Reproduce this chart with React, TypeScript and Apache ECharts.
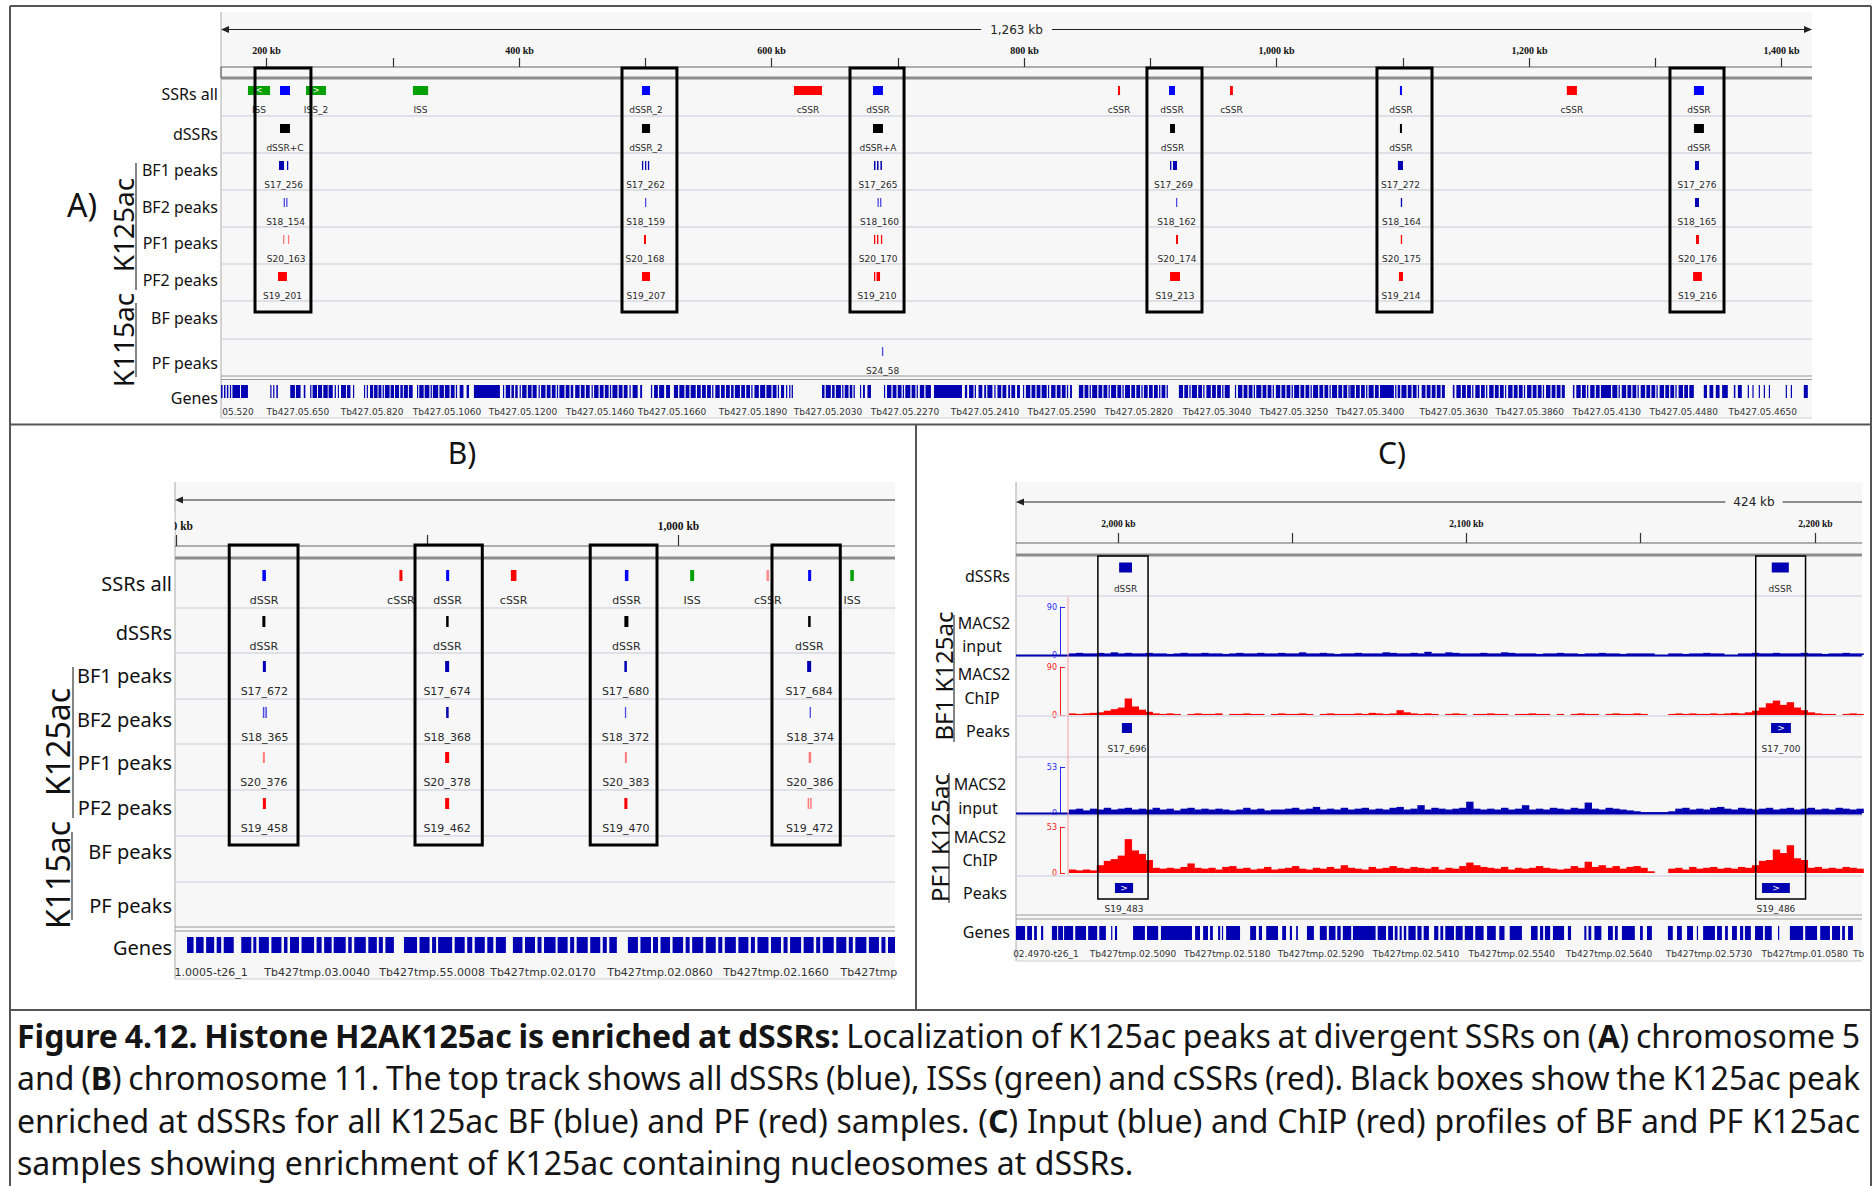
import React, { useEffect, useRef } from 'react';
import * as echarts from 'echarts';

const UI = '"Noto Sans", "DejaVu Sans", sans-serif';
const SMALL = '"DejaVu Sans", sans-serif';
const SERIF = '"Liberation Serif", "DejaVu Serif", serif';

const COLORS: Record<string, string> = {
  d: '#0000ff', c: '#ff0000', c2: '#ff8c8c', i: '#00a000', k: '#000000',
  b: '#0000b2', b2: '#4b4be6', r: '#ff0000', r2: '#ff7b7b',
};

// ---------------- Panel A : chromosome 5 (kb) ----------------
const A_RANGE = [163.96, 1424.2];
const A_SPAN_LABEL = '1,263 kb';
const A_TICKS = [200, 300, 400, 500, 600, 700, 800, 900, 1000, 1100, 1200, 1300, 1400];
const A_TICK_LABELS = ['200 kb', '', '400 kb', '', '600 kb', '', '800 kb', '', '1,000 kb', '', '1,200 kb', '', '1,400 kb'];
// [label, bars [start,end], colour key, strand arrow]
const A_SSRS_ALL: any[] = [
  ['ISS', [[185.3, 202.8]], 'i', '<'], ['', [[210.7, 218.6]], 'd'], ['ISS_2', [[231.3, 247.1]], 'i', '>'],
  ['ISS', [[316, 328]], 'i'], ['dSSR_2', [[497.4, 503.8]], 'd'], ['cSSR', [[617.8, 640]], 'c'],
  ['dSSR', [[680.4, 688.3]], 'd'], ['cSSR', [[874.5, 876.1]], 'c'], ['dSSR', [[914.9, 919.6]], 'd'],
  ['cSSR', [[963.2, 965.5]], 'c'], ['dSSR', [[1097.8, 1099.4]], 'd'], ['cSSR', [[1230, 1238]], 'c'],
  ['dSSR', [[1330.7, 1338.6]], 'd'],
];
const A_DSSRS: any[] = [
  ['dSSR+C', [[210.7, 218.6]], 'k'], ['dSSR_2', [[497.4, 503.8]], 'k'], ['dSSR+A', [[680.4, 688.3]], 'k'],
  ['dSSR', [[915.7, 919.6]], 'k'], ['dSSR', [[1097.8, 1099.4]], 'k'], ['dSSR', [[1330.7, 1338.6]], 'k'],
];
const A_BF1: any[] = [
  ['S17_256', [[209.9, 213.9], [216.2, 217]], 'b'], ['S17_262', [[497.4, 498.2], [499.8, 500.6], [502.1, 502.9]], 'b'],
  ['S17_265', [[681.2, 682.4], [683.6, 684.8], [686.3, 687.5]], 'b'], ['S17_269', [[915.7, 916.6], [918, 921.2]], 'b'],
  ['S17_272', [[1096.2, 1100.2]], 'b'], ['S17_276', [[1331.5, 1334.7]], 'b'],
];
const A_BF2: any[] = [
  ['S18_154', [[213.6, 214.4], [215.6, 216.4]], 'b2'], ['S18_159', [[499.8, 500.6]], 'b2'],
  ['S18_160', [[684, 684.6], [686, 686.6]], 'b2'], ['S18_162', [[920.4, 921.2]], 'b2'],
  ['S18_164', [[1098.5, 1099.4]], 'b'], ['S18_165', [[1331.5, 1334.7]], 'b'],
];
const A_PF1: any[] = [
  ['S20_163', [[213.1, 213.9], [217, 217.8]], 'r2'], ['S20_168', [[499, 500.6]], 'r'],
  ['S20_170', [[681.2, 682], [683.6, 684.4], [686.7, 687.5]], 'r'], ['S20_174', [[920.4, 922]], 'r'],
  ['S20_175', [[1098.5, 1099.4]], 'r'], ['S20_176', [[1332.3, 1334.7]], 'r'],
];
const A_PF2: any[] = [
  ['S19_201', [[209.1, 216.2]], 'r'], ['S19_207', [[497.4, 503.8]], 'r'], ['S19_210', [[681.2, 682], [683.2, 686]], 'r'],
  ['S19_213', [[915.7, 923.6]], 'r'], ['S19_214', [[1097, 1100.2]], 'r'], ['S19_216', [[1330, 1337]], 'r'],
];
const A_K115_BF: any[] = [];
const A_K115_PF: any[] = [['S24_58', [[687.5, 688.3]], 'b2']];
const A_BOXES = [[190.9, 235.2], [481.6, 525.1], [662.2, 705.0], [897.4, 941.0], [1079.6, 1123.2], [1311.7, 1354.5]];
const A_GENES = [
  [164, 165.2], [166.3, 167.5], [168.6, 169.8], [171, 172], [173, 179], [179.8, 185.3],
  [203, 203.9], [205.3, 206.2], [207.8, 209], [218.8, 222.5], [223.3, 227], [229.5, 230.8],
  [234.6, 235.5], [236.5, 240], [240.8, 244], [245, 248.5], [249.2, 252.5], [254, 255], [256.5, 257.3], [259, 263], [263.8, 266.5], [268.5, 269.4],
  [277.2, 278], [279.4, 280.2],
  [282, 284.5], [285.2, 288], [288.7, 291], [292, 293], [293.8, 297.5], [298.3, 301], [301.8, 305], [306, 308], [308.8, 312], [312.8, 315.8],
  [319.2, 320], [321, 324.5], [325.3, 329], [330, 331], [331.8, 336], [337, 340.5], [341.3, 345], [346, 349], [350, 351], [353, 356], [358.5, 360.4],
  [364.3, 384.9],
  [387.3, 388.2], [389.5, 393], [394, 396], [397, 399], [400.5, 401.3], [402.5, 406], [407, 410], [410.8, 414], [415.5, 416.5], [417.5, 421],
  [422, 425], [426, 429], [430, 431], [432, 436], [437, 440], [441, 443], [444.5, 448], [449, 452], [453, 456], [457.5, 458.3],
  [459.5, 463], [464, 467], [468, 471], [472, 473], [474, 478], [479, 482], [483, 486], [487.5, 488.5], [490, 494], [496, 497.5],
  [504.5, 505.5], [507, 510], [511, 515], [516.5, 519.6],
  [522.7, 526], [527, 531], [532, 535], [536, 540], [541, 544], [545, 548], [549, 552], [553, 554], [555.5, 559], [560, 563],
  [564, 567], [568, 570], [571, 575], [576, 579], [580, 583], [584, 585], [586.5, 590], [591, 595], [596, 600], [601, 604],
  [605, 606], [607.5, 610], [611.5, 612.5], [614, 615], [616, 617],
  [640, 642], [643, 647], [648, 650], [651, 655], [656, 657], [658, 661], [662, 664], [665, 666],
  [670.1, 671], [672.5, 674], [676, 678.8],
  [689.1, 690], [691.5, 695], [696, 699], [700, 703], [704, 705], [706, 710], [711, 714], [715, 716], [717.5, 721], [722, 726.3],
  [728.7, 750.9],
  [753.2, 755], [756.5, 760], [761, 762], [764, 767], [768.5, 770], [771, 775], [776.5, 777.5], [779, 782], [783, 786], [787.5, 789], [790, 793], [794.5, 796.8],
  [799.2, 800], [801.5, 805], [806, 809], [810, 813], [814, 818], [819, 820], [821.5, 825], [826, 829], [830, 833], [834, 835], [836.5, 838],
  [843.5, 847], [848, 851], [852, 853], [854, 858], [859, 862], [863, 866], [867, 868], [869, 873], [874, 877], [878, 879],
  [880, 884], [885, 888], [889, 892], [893, 894], [895, 898], [899, 902], [903, 906], [907, 908], [909, 912], [913, 914],
  [922.7, 926], [927, 930], [931, 932], [933, 937], [938, 941], [942, 943], [944.5, 948], [949, 952], [953, 956], [957, 958], [959, 963],
  [967.1, 968], [969.5, 973], [974, 977], [978, 981], [982, 983], [984, 988], [989, 992], [993, 996], [997, 998], [999.5, 1003],
  [1004, 1007], [1008, 1011], [1012, 1013], [1014, 1018], [1019, 1022], [1023, 1026], [1027, 1028], [1029, 1033], [1034, 1037], [1038, 1041],
  [1042, 1043], [1044, 1048], [1049, 1052], [1053, 1056], [1057, 1058],
  [1058.5, 1062], [1063, 1066], [1067, 1070], [1071, 1072], [1073, 1077], [1078, 1081], [1082, 1093], [1094, 1095], [1096, 1098], [1099, 1103],
  [1104, 1107], [1108, 1111], [1112, 1113], [1115, 1118], [1119, 1122], [1123, 1126], [1127, 1130], [1131, 1133.4],
  [1139.7, 1141], [1142.5, 1146], [1147, 1150], [1151, 1154], [1155, 1156], [1157.5, 1161], [1162, 1165], [1166, 1167], [1168.5, 1172], [1173, 1176],
  [1177, 1180], [1181, 1182], [1183.5, 1187], [1188, 1191], [1192, 1195], [1196, 1197], [1198.5, 1202], [1203, 1206], [1207, 1210], [1211, 1212],
  [1213.5, 1217], [1218, 1221], [1222, 1225], [1226, 1228.4],
  [1234.8, 1236], [1237.5, 1241], [1242, 1245], [1246, 1247], [1248.5, 1252], [1253, 1256], [1257, 1265], [1266, 1270], [1271, 1272], [1273.5, 1277],
  [1278, 1281], [1282, 1285], [1286, 1287], [1288.5, 1292], [1293, 1296], [1297, 1300], [1301, 1302], [1303.5, 1307], [1308, 1311], [1312, 1315],
  [1316, 1317], [1318.5, 1322], [1323, 1326], [1327, 1330.6],
  [1338.5, 1341], [1343, 1346], [1348, 1351], [1353, 1357.5], [1362.3, 1363.5], [1365.5, 1368.6],
  [1373.3, 1374], [1377, 1377.8], [1382, 1382.8], [1386, 1386.8], [1390, 1390.8], [1403.4, 1404.2], [1407.4, 1408.2], [1417.7, 1420.9],
];
const A_GENE_LABELS: [number, string][] = [
  [177.4, '05.520'], [224.9, 'Tb427.05.650'], [283.6, 'Tb427.05.820'], [343.0, 'Tb427.05.1060'], [403.1, 'Tb427.05.1200'],
  [464.1, 'Tb427.05.1460'], [521.2, 'Tb427.05.1660'], [585.3, 'Tb427.05.1890'], [644.7, 'Tb427.05.2030'], [705.7, 'Tb427.05.2270'],
  [769.1, 'Tb427.05.2410'], [830.0, 'Tb427.05.2590'], [891.0, 'Tb427.05.2820'], [952.8, 'Tb427.05.3040'], [1013.8, 'Tb427.05.3250'],
  [1074.0, 'Tb427.05.3400'], [1140.5, 'Tb427.05.3630'], [1200.7, 'Tb427.05.3860'], [1261.7, 'Tb427.05.4130'], [1322.6, 'Tb427.05.4480'],
  [1385.2, 'Tb427.05.4650'],
];

// ---------------- Panel B : chromosome 11 (kb) ----------------
const B_RANGE = [899.8, 1043.2];
const B_TICKS = [900, 950, 1000];
const B_TICK_LABELS = ['900 kb', '', '1,000 kb'];
const B_SSRS_ALL: any[] = [
  ['dSSR', [[917.2, 917.9]], 'd'], ['cSSR', [[944.5, 945.1]], 'c'], ['dSSR', [[953.8, 954.4]], 'd'],
  ['cSSR', [[966.7, 967.8]], 'c'], ['dSSR', [[989.4, 990.1]], 'd'], ['ISS', [[1002.4, 1003.2]], 'i'],
  ['cSSR', [[1017.6, 1018.1]], 'c2'], ['', [[1025.9, 1026.5]], 'd'], ['ISS', [[1034.3, 1035]], 'i'],
];
const B_DSSRS: any[] = [
  ['dSSR', [[917.2, 917.8]], 'k'], ['dSSR', [[953.8, 954.3]], 'k'], ['dSSR', [[989.3, 990.1]], 'k'], ['dSSR', [[1025.9, 1026.4]], 'k'],
];
const B_BF1: any[] = [
  ['S17_672', [[917.3, 917.9]], 'b'], ['S17_674', [[953.6, 954.4]], 'b'], ['S17_680', [[989.3, 989.8]], 'b'], ['S17_684', [[1025.7, 1026.5]], 'b'],
];
const B_BF2: any[] = [
  ['S18_365', [[917.3, 917.6], [917.8, 918.1]], 'b2'], ['S18_368', [[953.8, 954.3]], 'b'], ['S18_372', [[989.4, 989.6]], 'b2'], ['S18_374', [[1026.2, 1026.4]], 'b2'],
];
const B_PF1: any[] = [
  ['S20_376', [[917.3, 917.7]], 'r2'], ['S20_378', [[953.6, 954.4]], 'r'], ['S20_383', [[989.4, 989.8]], 'r2'], ['S20_386', [[1026, 1026.5]], 'r2'],
];
const B_PF2: any[] = [
  ['S19_458', [[917.3, 917.9]], 'r'], ['S19_462', [[953.6, 954.4]], 'r'], ['S19_470', [[989.3, 989.9]], 'r'], ['S19_472', [[1025.8, 1026.1], [1026.3, 1026.6]], 'r2'],
];
const B_K115_BF: any[] = [];
const B_K115_PF: any[] = [];
const B_BOXES = [[910.6, 924.3], [947.6, 961], [982.5, 995.8], [1018.7, 1032.3]];
const B_GENES = [
  [902.2, 903.5], [904, 905.5], [906, 907.6], [908.1, 909], [909.5, 911.5], [913, 915], [915.4, 916], [916.5, 918.5], [919, 921], [921.5, 922.2],
  [922.7, 924.5], [925, 927.5], [928, 929], [929.5, 931], [931.4, 933.8], [934.3, 935], [935.5, 937.8], [938.3, 940], [940.4, 941.2], [941.7, 943.4],
  [945.4, 948], [948.5, 950.5], [951, 951.8], [952.2, 955], [955.5, 957.5], [958, 959], [959.5, 961.5], [962, 963.2], [963.7, 965.7],
  [967.1, 969], [969.5, 971.5], [972, 972.8], [973.3, 975.6], [976, 978], [978.5, 979.3], [979.8, 982], [982.5, 984.5], [985, 985.8], [986.3, 987.8],
  [990, 992], [992.5, 994.6], [995, 996], [996.5, 998.4], [998.9, 1001], [1001.5, 1002.3], [1002.8, 1005], [1005.5, 1007.5], [1008, 1008.8], [1009.3, 1011.5],
  [1012, 1014], [1014.5, 1015.3], [1015.8, 1018], [1018.5, 1020.5], [1021, 1021.8], [1022.3, 1024.5], [1025, 1027], [1027.5, 1028.3], [1028.8, 1031], [1031.5, 1033.5],
  [1034, 1034.8], [1035.3, 1037.5], [1038, 1040], [1040.5, 1041.3], [1041.8, 1043.2],
];
const B_GENE_LABELS: [number, string][] = [
  [907.0, '1.0005-t26_1'], [928.1, 'Tb427tmp.03.0040'], [951.0, 'Tb427tmp.55.0008'], [973.1, 'Tb427tmp.02.0170'],
  [996.4, 'Tb427tmp.02.0860'], [1019.5, 'Tb427tmp.02.1660'], [1038.0, 'Tb427tmp'],
];

// ---------------- Panel C : profiles (kb) ----------------
const C_RANGE = [1970.8, 2213.6];
const C_SIGNAL_AXIS_MIN = 1983.44;
const C_SPAN_LABEL = '424 kb';
const C_TICKS = [2000, 2050, 2100, 2150, 2200];
const C_TICK_LABELS = ['2,000 kb', '', '2,100 kb', '', '2,200 kb'];
const C_DSSRS: any[] = [['dSSR', [[2000.4, 2004.1]], 'b'], ['dSSR', [[2187.7, 2192.6]], 'b']];
const C_BF1_PEAKS: any[] = [['S17_696', [[2001.2, 2004.1]], 'b'], ['S17_700', [[2187.5, 2193.2]], 'b', '>']];
const C_PF1_PEAKS: any[] = [['S19_483', [[1999.2, 2004.4]], 'b', '>'], ['S19_486', [[2184.9, 2192.9]], 'b', '>']];
const C_BOXES = [[1994.3, 2008.7], [2183.1, 2197.4]];
const SIGNAL_START_KB = 1986;
const SIGNAL_BIN_KB = 2;
const BF1_MAX = 90;
const PF1_MAX = 53;
const BF1_INPUT = [
  3, 4, 3, 3, 4, 3, 5, 3, 4, 3, 3, 4, 3, 3, 2, 3, 4, 3, 3, 4, 3, 3, 2, 3, 4, 3, 3, 4, 3, 3,
  4, 3, 3, 5, 3, 3, 4, 3, 2, 3, 3, 4, 3, 3, 3, 5, 4, 3, 3, 4, 3, 6, 3, 3, 5, 4, 3, 3, 3, 4,
  3, 3, 5, 4, 3, 3, 3, 2, 3, 3, 4, 3, 3, 2, 3, 3, 4, 3, 3, 2, 3, 3, 3, 3, 0, 0, 3, 3, 2, 3,
  3, 4, 3, 3, 0, 0, 3, 3, 4, 3, 3, 4, 3, 3, 3, 4, 3, 3, 2, 3, 3, 4, 3, 3,
];
const BF1_CHIP = [
  3, 2, 3, 4, 5, 8, 11, 14, 31, 16, 10, 6, 3, 2, 3, 2, 0, 2, 3, 2, 2, 3, 0, 2, 2, 3, 2, 2, 0, 2,
  3, 2, 2, 3, 2, 0, 2, 3, 2, 2, 2, 3, 2, 4, 3, 2, 3, 9, 5, 3, 2, 3, 2, 0, 2, 3, 2, 0, 2, 2,
  3, 2, 2, 0, 2, 2, 3, 2, 2, 0, 2, 0, 2, 3, 2, 2, 0, 2, 3, 2, 2, 3, 2, 0, 0, 0, 2, 3, 2, 3,
  2, 2, 3, 2, 3, 4, 3, 5, 8, 14, 22, 27, 19, 24, 14, 9, 5, 3, 2, 2, 0, 2, 3, 2,
];
const PF1_INPUT = [
  4, 5, 3, 5, 4, 6, 4, 5, 6, 4, 5, 4, 6, 4, 5, 3, 5, 6, 4, 5, 4, 5, 4, 3, 4, 6, 4, 5, 3, 4,
  4, 5, 6, 4, 5, 7, 4, 5, 4, 6, 4, 5, 6, 4, 5, 4, 6, 7, 4, 5, 9, 4, 6, 5, 4, 5, 6, 13, 5, 4,
  5, 4, 6, 4, 5, 9, 4, 5, 4, 6, 5, 4, 6, 5, 12, 5, 4, 6, 5, 4, 3, 2, 1, 1, 1, 1, 2, 5, 6, 4,
  5, 4, 6, 7, 5, 4, 6, 5, 4, 5, 6, 4, 5, 6, 4, 5, 6, 4, 5, 4, 6, 5, 4, 5,
];
const PF1_CHIP = [
  4, 3, 4, 3, 9, 14, 16, 20, 39, 26, 22, 15, 6, 5, 6, 5, 7, 11, 6, 5, 6, 4, 7, 8, 5, 6, 4, 5, 7, 4,
  5, 6, 8, 5, 4, 6, 5, 7, 5, 9, 6, 5, 4, 7, 5, 6, 8, 6, 5, 7, 6, 5, 7, 4, 6, 5, 8, 12, 9, 7,
  6, 5, 7, 4, 6, 5, 6, 8, 6, 5, 4, 5, 8, 6, 13, 7, 9, 6, 8, 5, 7, 8, 6, 2, 0, 0, 5, 6, 4, 7,
  5, 6, 7, 5, 6, 5, 7, 6, 9, 14, 15, 27, 23, 32, 17, 15, 6, 7, 5, 6, 5, 7, 6, 5,
];
const C_GENES = [
  [1970.8, 1973.4], [1974, 1975.4], [1976, 1976.8], [1978, 1978.6], [1981.1, 1982.6], [1982.9, 1984.3], [1984.6, 1987.2], [1987.8, 1990.9], [1991.5, 1994.1], [1994.7, 1996.6],
  [1998.1, 1998.4], [1999.2, 1999.8], [2004.4, 2007.8], [2008.4, 2011.6], [2012.4, 2021.3], [2022.2, 2023.6], [2024.5, 2025.9], [2026.5, 2027.3], [2028.8, 2029.4], [2029.9, 2030.2],
  [2031.1, 2035.1], [2038, 2039.7], [2040.5, 2041.4], [2042.6, 2046], [2047.2, 2048.3], [2049.4, 2050], [2051.2, 2051.7], [2054.3, 2056.3],
  [2058, 2060], [2060.6, 2062.5], [2063, 2064], [2064.6, 2067], [2067.5, 2074], [2074.6, 2077], [2077.6, 2079], [2079.5, 2080.3], [2080.9, 2081.5], [2082.1, 2082.8],
  [2083.4, 2085.5], [2086, 2087.2], [2087.8, 2089.3],
  [2090.8, 2092], [2092.6, 2093.4], [2094, 2096.5], [2097, 2099], [2099.6, 2102], [2102.6, 2105], [2106, 2108.5], [2109.5, 2111], [2112.5, 2116],
  [2118.6, 2120.5], [2121.2, 2122.1], [2122.6, 2124.1], [2124.9, 2128.1], [2129.2, 2130.1],
  [2133.9, 2134.5], [2135.1, 2135.9], [2136.8, 2138.8], [2140.7, 2142.1], [2142.7, 2143.5], [2144.7, 2148.4], [2149.9, 2150.7], [2151.9, 2153.3],
  [2157.9, 2159.3], [2160.5, 2161.9], [2163.4, 2165.1], [2166.2, 2166.5], [2168, 2171.4], [2172, 2173.4], [2174.3, 2175.1], [2176.3, 2177.7], [2178.6, 2179.5], [2180, 2181.7],
  [2182.9, 2185.2], [2185.7, 2187.7], [2189.5, 2189.8], [2192.9, 2196.7], [2197.3, 2200.7], [2201.6, 2204.4], [2205, 2207.3], [2207.9, 2208.7], [2209.6, 2211],
];
const C_GENE_LABELS: [number, string][] = [
  [1979.4, '02.4970-t26_1'], [2004.4, 'Tb427tmp.02.5090'], [2031.4, 'Tb427tmp.02.5180'], [2058.3, 'Tb427tmp.02.5290'],
  [2085.6, 'Tb427tmp.02.5410'], [2113.1, 'Tb427tmp.02.5540'], [2141.0, 'Tb427tmp.02.5640'], [2169.7, 'Tb427tmp.02.5730'],
  [2197.2, 'Tb427tmp.01.0580'], [2212.6, 'Tb'],
];

// ---------------- Caption ----------------
const CAPTION_RUNS: [string, number][][] = [
  [['Figure 4.12. Histone H2AK125ac is enriched at dSSRs:', 1], [' Localization of K125ac peaks at divergent SSRs on (', 0], ['A', 1], [') chromosome 5', 0]],
  [['and (', 0], ['B', 1], [') chromosome 11. The top track shows all dSSRs (blue), ISSs (green) and cSSRs (red). Black boxes show the K125ac peak', 0]],
  [['enriched at dSSRs for all K125ac BF (blue) and PF (red) samples. (', 0], ['C', 1], [') Input (blue) and ChIP (red) profiles of BF and PF K125ac', 0]],
  [['samples showing enrichment of K125ac containing nucleosomes at dSSRs.', 0]],
];

function captionElements(): any[] {
  const X0 = 17, FULL = 1843, LAST = 1149, YS = [1035, 1077.5, 1120, 1162.5];
  const ctx = document.createElement('canvas').getContext('2d') as CanvasRenderingContext2D;
  const meas = (t: string, b: number, fs: number) => { ctx.font = `${b ? 'bold ' : ''}${fs}px ${UI}`; return ctx.measureText(t).width; };
  const lines = CAPTION_RUNS.map((runs) => {
    const words: [string, number][][] = []; let cur: [string, number][] = [];
    runs.forEach(([t, b]) => {
      for (const ch of t) {
        if (ch === ' ') { if (cur.length) { words.push(cur); cur = []; } }
        else { const last = cur[cur.length - 1]; if (last && last[1] === b) last[0] += ch; else cur.push([ch, b]); }
      }
    });
    if (cur.length) words.push(cur);
    return words;
  });
  const natural = (words: [string, number][][], fs: number) =>
    words.reduce((s, w) => s + w.reduce((a, p) => a + meas(p[0], p[1], fs), 0), 0) + (words.length - 1) * meas(' ', 0, fs);
  let fs = 28 * LAST / natural(lines[3], 28);
  fs = Math.max(24, Math.min(32, fs));
  const out: any[] = [];
  lines.forEach((words, li) => {
    const sp = meas(' ', 0, fs);
    const ws = words.map((w) => w.map((p) => meas(p[0], p[1], fs)));
    const sumW = ws.reduce((s, w) => s + w.reduce((a, b) => a + b, 0), 0);
    let gap = sp, sx = 1;
    if (li < lines.length - 1) {
      gap = (FULL - sumW) / (words.length - 1);
      if (gap < sp * 0.6) { gap = sp * 0.6; sx = (FULL - gap * (words.length - 1)) / sumW; }
    }
    let x = X0;
    words.forEach((w, wi) => {
      w.forEach((p, pi) => {
        out.push({ type: 'text', x, y: YS[li], scaleX: sx, z: 10, silent: true,
          style: { text: p[0], fill: '#151515', fontSize: fs, lineHeight: fs * 1.05, fontFamily: UI, fontWeight: p[1] ? 'bold' : 'normal', align: 'left', verticalAlign: 'middle' } });
        x += ws[wi][pi] * sx;
      });
      x += gap;
    });
  });
  return out;
}

function buildOption() {
  const grids: any[] = [], xAxes: any[] = [], yAxes: any[] = [], series: any[] = [], G: any[] = [];

  const addGrid = (left: number, right: number, top: number, height: number, range: number[], yOpt?: any) => {
    const gi = grids.length;
    grids.push({ left, top, width: right - left, height });
    xAxes.push({ type: 'value', gridIndex: gi, min: range[0], max: range[1], show: false });
    yAxes.push(yOpt ? { gridIndex: gi, ...yOpt } : { type: 'value', gridIndex: gi, min: 0, max: 1, show: false });
    return gi;
  };

  const featureSeries = (gi: number, groups: any[], cfg: any) => ({
    type: 'custom', xAxisIndex: gi, yAxisIndex: gi, silent: true, z: 3, clip: false,
    encode: { x: [0, 1], y: 2 },
    data: groups.map((g) => [Math.min(...g[1].map((b: number[]) => b[0])), Math.max(...g[1].map((b: number[]) => b[1])), 0]),
    renderItem: (params: any, api: any) => {
      const g = groups[params.dataIndex];
      const cs = params.coordSys;
      const color = COLORS[g[2]];
      const yc = cs.y + cfg.fOff;
      const children: any[] = [];
      let xs = Infinity, xe = -Infinity;
      g[1].forEach((b: number[]) => {
        const x0 = api.coord([b[0], 0])[0], x1 = api.coord([b[1], 0])[0];
        const w = Math.max(1.3, x1 - x0);
        xs = Math.min(xs, x0); xe = Math.max(xe, x0 + w);
        children.push({ type: 'rect', shape: { x: x0, y: yc - cfg.h / 2, width: w, height: cfg.h }, style: { fill: color } });
      });
      if (g[3]) children.push({ type: 'text', style: { text: g[3], x: (xs + xe) / 2, y: yc, align: 'center', verticalAlign: 'middle', fill: '#ffffff', fontSize: cfg.h - 1, fontFamily: SMALL } });
      if (g[0]) children.push({ type: 'text', style: { text: g[0], x: (xs + xe) / 2, y: cs.y + cfg.lOff, align: 'center', verticalAlign: 'middle', fill: '#2a2a2a', fontSize: cfg.fs, fontFamily: SMALL } });
      return { type: 'group', children };
    },
  });

  const geneSeries = (gi: number, genes: number[][], labels: [number, string][], cfg: any) => {
    series.push({
      type: 'custom', xAxisIndex: gi, yAxisIndex: gi, silent: true, z: 3, clip: false,
      encode: { x: [0, 1], y: 2 },
      data: genes.map((g) => [g[0], g[1], 0]),
      renderItem: (params: any, api: any) => {
        const cs = params.coordSys;
        const x0 = api.coord([api.value(0), 0])[0], x1 = api.coord([api.value(1), 0])[0];
        return { type: 'rect', shape: { x: x0, y: cs.y + cfg.off - cfg.h / 2, width: Math.max(1.2, x1 - x0), height: cfg.h }, style: { fill: '#0000b2' } };
      },
    });
    series.push({
      type: 'custom', xAxisIndex: gi, yAxisIndex: gi, silent: true, z: 3, clip: false,
      data: labels.map((l) => [l[0], 0]),
      renderItem: (params: any, api: any) => {
        const cs = params.coordSys;
        const x = api.coord([api.value(0), 0])[0];
        return { type: 'text', style: { text: labels[params.dataIndex][1], x, y: cs.y + cfg.lOff, align: 'center', verticalAlign: 'middle', fill: '#333', fontSize: cfg.fs, fontFamily: SMALL } };
      },
    });
  };

  const tickSeries = (gi: number, ticks: number[], labels: string[], cfg: any) => {
    series.push({
      type: 'custom', xAxisIndex: gi, yAxisIndex: gi, silent: true, z: 3, clip: false,
      data: ticks.map((t) => [t, 0]),
      renderItem: (params: any, api: any) => {
        const cs = params.coordSys;
        const x = Math.round(api.coord([api.value(0), 0])[0]) + 0.5;
        const ch: any[] = [{ type: 'line', shape: { x1: x, y1: cs.y + cfg.t0, x2: x, y2: cs.y + cs.height }, style: { stroke: '#333', lineWidth: 1.2 } }];
        const lab = labels[params.dataIndex];
        if (lab) ch.push({ type: 'text', style: { text: lab, x, y: cs.y + cfg.lOff, align: 'center', verticalAlign: 'middle', fill: '#111', fontSize: cfg.fs, fontWeight: 'bold', fontFamily: SERIF } });
        return { type: 'group', children: ch };
      },
    });
  };

  const boxSeries = (gi: number, boxes: number[][], lw: number) => {
    series.push({
      type: 'custom', xAxisIndex: gi, yAxisIndex: gi, silent: true, z: 6, clip: false,
      encode: { x: [0, 1], y: 2 },
      data: boxes.map((b) => [b[0], b[1], 0]),
      renderItem: (params: any, api: any) => {
        const cs = params.coordSys;
        const x0 = api.coord([api.value(0), 0])[0], x1 = api.coord([api.value(1), 0])[0];
        return { type: 'rect', shape: { x: x0, y: cs.y, width: x1 - x0, height: cs.height }, style: { fill: 'none', stroke: '#000', lineWidth: lw } };
      },
    });
  };

  const signalSeries = (gi: number, values: number[], color: string) => {
    series.push({
      type: 'custom', xAxisIndex: gi, yAxisIndex: gi, silent: true, z: 3, clip: false,
      encode: { x: [0, 1], y: 2 },
      data: values.map((v, i) => [SIGNAL_START_KB + i * SIGNAL_BIN_KB, SIGNAL_START_KB + (i + 1) * SIGNAL_BIN_KB, v]),
      renderItem: (params: any, api: any) => {
        const v = api.value(2);
        if (!(v > 0)) return { type: 'group', children: [] };
        const a = api.coord([api.value(0), v]);
        const b = api.coord([api.value(1), 0]);
        return { type: 'rect', shape: { x: a[0], y: a[1], width: b[0] - a[0] + 0.4, height: b[1] - a[1] }, style: { fill: color } };
      },
    });
  };

  // graphic helpers
  const ln = (x1: number, y1: number, x2: number, y2: number, stroke: string, lw: number, z = 1) =>
    G.push({ type: 'line', silent: true, z, shape: { x1, y1, x2, y2 }, style: { stroke, lineWidth: lw } });
  const rc = (x: number, y: number, w: number, h: number, fill: string, z = 0) =>
    G.push({ type: 'rect', silent: true, z, shape: { x, y, width: w, height: h }, style: { fill } });
  const tx = (t: string, x: number, y: number, fs: number, align = 'right', extra: any = {}, rot = 0) =>
    G.push({ type: 'text', silent: true, z: 10, x, y, rotation: rot, style: { text: t, fill: '#111', fontSize: fs, fontFamily: UI, align, verticalAlign: 'middle', ...extra } });
  const tri = (pts: number[][]) => G.push({ type: 'polygon', silent: true, z: 2, shape: { points: pts }, style: { fill: '#222' } });

  const BG = '#f7f7f7', SEP = '#d9d9e3';

  // ---------- frame ----------
  rc(0, 0, 1875, 1186, '#ffffff', -1);
  [[10, 6, 1871, 6], [10, 6, 10, 1186], [1871, 6, 1871, 1186], [10, 424.5, 1871, 424.5], [10, 1010, 1871, 1010], [916, 424.5, 916, 1010]]
    .forEach((l) => ln(l[0], l[1], l[2], l[3], '#555', 2, 9));

  // ================= PANEL A =================
  const AL = 221, AR = 1812;
  rc(AL, 12, AR - AL, 406, BG);
  ln(AL, 12, AL, 418, '#aaa', 1);
  [116, 153, 190, 227, 264, 301, 339].forEach((y) => ln(AL, y, AR, y, SEP, 1.5));
  ln(AL, 376, AR, 376, '#9a9a9a', 1.2); ln(AL, 379.5, AR, 379.5, '#9a9a9a', 1.2); ln(AL, 418, AR, 418, '#cfcfcf', 1);
  ln(AL, 67, AR, 67, '#666', 1.2); ln(AL, 67, AL, 78, '#666', 1.2); ln(AL, 78, AR, 78, '#8c8c8c', 3);
  ln(AL + 4, 29.5, AR - 4, 29.5, '#222', 1.2);
  tri([[AL, 29.5], [AL + 8, 26], [AL + 8, 33]]); tri([[AR, 29.5], [AR - 8, 26], [AR - 8, 33]]);
  tx(A_SPAN_LABEL, (AL + AR) / 2, 30, 12, 'center', { fontFamily: SMALL, backgroundColor: BG, padding: [1, 9], fill: '#222' });
  tickSeries(addGrid(AL, AR, 40, 27, A_RANGE), A_TICKS, A_TICK_LABELS, { lOff: 10, t0: 18, fs: 10 });
  const aRows: [any[], number, number][] = [
    [A_SSRS_ALL, 78, 38], [A_DSSRS, 116, 37], [A_BF1, 153, 37], [A_BF2, 190, 37], [A_PF1, 227, 37], [A_PF2, 264, 37], [A_K115_BF, 301, 38], [A_K115_PF, 339, 37],
  ];
  aRows.forEach(([grp, top, h]) => series.push(featureSeries(addGrid(AL, AR, top, h, A_RANGE), grp, { fOff: 12.5, h: 9, lOff: 31.5, fs: 9 })));
  geneSeries(addGrid(AL, AR, 380, 38, A_RANGE), A_GENES, A_GENE_LABELS, { off: 11.5, h: 13, lOff: 32, fs: 9 });
  boxSeries(addGrid(AL, AR, 68, 244, A_RANGE), A_BOXES, 3);
  [['SSRs all', 94], ['dSSRs', 134], ['BF1 peaks', 170], ['BF2 peaks', 207], ['PF1 peaks', 243], ['PF2 peaks', 280], ['BF peaks', 318], ['PF peaks', 363], ['Genes', 398]]
    .forEach(([t, y]) => tx(t as string, 218, y as number, 16));
  tx('A)', 82, 204, 32, 'center');
  tx('K125ac', 123, 225, 28, 'center', {}, Math.PI / 2);
  tx('K115ac', 123, 340, 28, 'center', {}, Math.PI / 2);
  ln(136, 163, 136, 290, '#333', 1.2, 9); ln(136, 303, 136, 377, '#333', 1.2, 9);

  // ================= PANEL B =================
  const BL = 175, BR = 895;
  rc(BL, 482, BR - BL, 497, BG);
  ln(BL, 482, BL, 979, '#aaa', 1);
  [608, 653, 699, 744, 790, 836, 882].forEach((y) => ln(BL, y, BR, y, SEP, 1.5));
  ln(BL, 927, BR, 927, '#9a9a9a', 1.2); ln(BL, 931, BR, 931, '#9a9a9a', 1.2); ln(BL, 979, BR, 979, '#cfcfcf', 1);
  ln(BL, 546, BR, 546, '#666', 1.2); ln(BL, 558, BR, 558, '#8c8c8c', 3);
  ln(BL + 4, 500, BR, 500, '#222', 1.2); tri([[BL, 500], [BL + 8, 496.5], [BL + 8, 503.5]]);
  tickSeries(addGrid(BL, BR, 516, 30, B_RANGE), B_TICKS, B_TICK_LABELS, { lOff: 10, t0: 19, fs: 11.5 });
  rc(120, 513, BL - 120.5, 24, '#ffffff', 8);
  const bRows: [any[], number][] = [[B_SSRS_ALL, 562], [B_DSSRS, 608], [B_BF1, 653], [B_BF2, 699], [B_PF1, 744], [B_PF2, 790], [B_K115_BF, 836], [B_K115_PF, 882]];
  bRows.forEach(([grp, top]) => series.push(featureSeries(addGrid(BL, BR, top, 45, B_RANGE), grp, { fOff: 13.5, h: 11, lOff: 38, fs: 11 })));
  geneSeries(addGrid(BL, BR, 933, 46, B_RANGE), B_GENES, B_GENE_LABELS, { off: 12, h: 16, lOff: 39, fs: 11 });
  boxSeries(addGrid(BL, BR, 545, 300, B_RANGE), B_BOXES, 3);
  [['SSRs all', 583], ['dSSRs', 632], ['BF1 peaks', 675], ['BF2 peaks', 719], ['PF1 peaks', 762], ['PF2 peaks', 807], ['BF peaks', 851], ['PF peaks', 905], ['Genes', 947]]
    .forEach(([t, y]) => tx(t as string, 172, y as number, 20));
  tx('B)', 462, 452, 30, 'center');
  tx('K125ac', 57, 742, 32, 'center', {}, Math.PI / 2);
  tx('K115ac', 57, 875, 32, 'center', {}, Math.PI / 2);
  ln(73, 667, 73, 818, '#333', 1.2, 9); ln(72, 832, 72, 920, '#333', 1.2, 9);

  // ================= PANEL C =================
  const CL = 1016, CR = 1862, CS = 1060;
  rc(CL, 482, CR - CL, 479, BG);
  ln(CL, 482, CL, 961, '#aaa', 1);
  [596, 656.5, 716, 757, 815.5, 876].forEach((y) => ln(CL, y, CR, y, SEP, 1.5));
  ln(CL, 915, CR, 915, '#9a9a9a', 1.2); ln(CL, 919, CR, 919, '#9a9a9a', 1.2); ln(CL, 961, CR, 961, '#cfcfcf', 1);
  ln(CL, 543, CR, 543, '#666', 1.2); ln(CL, 555, CR, 555, '#8c8c8c', 3);
  ln(CL + 4, 502, CR, 502, '#222', 1.2); tri([[CL, 502], [CL + 8, 498.5], [CL + 8, 505.5]]);
  tx(C_SPAN_LABEL, 1754, 502, 12, 'center', { fontFamily: SMALL, backgroundColor: BG, padding: [1, 8], fill: '#222' });
  tickSeries(addGrid(CL, CR, 514, 29, C_RANGE), C_TICKS, C_TICK_LABELS, { lOff: 10, t0: 19, fs: 9.5 });
  series.push(featureSeries(addGrid(CL, CR, 555, 41, C_RANGE), C_DSSRS, { fOff: 12.5, h: 10, lOff: 34, fs: 9 }));
  series.push(featureSeries(addGrid(CL, CR, 716, 41, C_RANGE), C_BF1_PEAKS, { fOff: 12, h: 10, lOff: 33, fs: 9 }));
  series.push(featureSeries(addGrid(CL, CR, 876, 39, C_RANGE), C_PF1_PEAKS, { fOff: 12, h: 10, lOff: 33, fs: 9 }));
  const sigAxis = (max: number, color: string) => ({
    type: 'value', min: 0, max, interval: max, show: true,
    axisLine: { show: true, onZero: false, lineStyle: { color, width: 1 } },
    axisTick: { show: true, inside: true, length: 5, lineStyle: { color } },
    axisLabel: { show: true, fontSize: 8, color, margin: 3, fontFamily: SMALL },
    splitLine: { show: false },
  });
  const sRange = [C_SIGNAL_AXIS_MIN, C_RANGE[1]];
  ln(CL, 655.5, CR, 655.5, '#0000b2', 2, 2); ln(CL, 813.5, CR, 813.5, '#0000b2', 2, 2);
  ln(1068, 597, 1068, 875, '#f3a0a0', 1, 2);
  signalSeries(addGrid(CS, CR, 607, 48, sRange, sigAxis(BF1_MAX, '#2a2aff')), BF1_INPUT, '#0000b2');
  signalSeries(addGrid(CS, CR, 667, 48, sRange, sigAxis(BF1_MAX, '#ff2020')), BF1_CHIP, '#ff0000');
  signalSeries(addGrid(CS, CR, 767, 46, sRange, sigAxis(PF1_MAX, '#2a2aff')), PF1_INPUT, '#0000b2');
  signalSeries(addGrid(CS, CR, 827, 46, sRange, sigAxis(PF1_MAX, '#ff2020')), PF1_CHIP, '#ff0000');
  geneSeries(addGrid(CL, CR, 920, 41, C_RANGE), C_GENES, C_GENE_LABELS, { off: 13, h: 14, lOff: 34, fs: 9 });
  boxSeries(addGrid(CL, CR, 556, 343, C_RANGE), C_BOXES, 1.5);
  tx('dSSRs', 1010, 576, 16);
  tx('MACS2', 984, 623, 16, 'center'); tx('input', 982, 646, 16, 'center');
  tx('MACS2', 984, 674, 16, 'center'); tx('ChIP', 982, 698, 16, 'center');
  tx('Peaks', 1010, 731, 16);
  tx('MACS2', 980, 784, 16, 'center'); tx('input', 978, 808, 16, 'center');
  tx('MACS2', 980, 837, 16, 'center'); tx('ChIP', 980, 860, 16, 'center');
  tx('Peaks', 1007, 893, 16);
  tx('Genes', 1010, 932, 16);
  tx('C)', 1392, 452, 30, 'center');
  tx('BF1 K125ac', 943, 676, 24, 'center', {}, Math.PI / 2);
  tx('PF1 K125ac', 939, 838, 24, 'center', {}, Math.PI / 2);
  ln(954, 615, 954, 742, '#333', 1.2, 9); ln(949, 773, 949, 903, '#333', 1.2, 9);

  // ---------- caption ----------
  captionElements().forEach((e) => G.push(e));

  return {
    animation: false,
    backgroundColor: '#ffffff',
    grid: grids, xAxis: xAxes, yAxis: yAxes, series,
    graphic: { elements: G },
  };
}

export default function App() {
  const ref = useRef<HTMLDivElement>(null);
  useEffect(() => {
    const chart = echarts.init(ref.current as HTMLDivElement, null, { renderer: 'svg', width: 1875, height: 1186 });
    chart.setOption(buildOption() as any);
    return () => chart.dispose();
  }, []);
  return <div ref={ref} style={{ position: 'absolute', left: 0, top: 0, width: 1875, height: 1186, background: '#fff' }} />;
}
